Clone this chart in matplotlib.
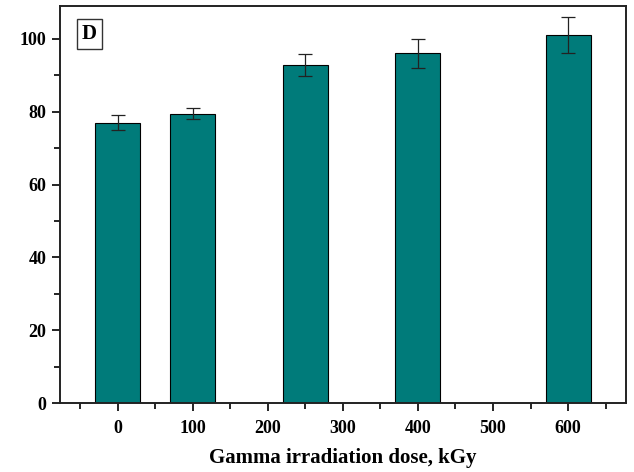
import matplotlib.pyplot as plt
from matplotlib.ticker import MultipleLocator

# values
doses = [0, 100, 250, 400, 600]
values = [77.0, 79.4, 92.9, 96.0, 101.0]
errors = [2.0, 1.5, 3.0, 4.0, 5.0]
xticks = [0, 100, 200, 300, 400, 500, 600]

plt.rcParams['font.family'] = ['Liberation Serif', 'DejaVu Serif']
plt.rcParams['font.weight'] = 'bold'

fig = plt.figure(figsize=(6.34, 4.72), dpi=100)
ax = fig.add_axes([0.095, 0.146, 0.892, 0.841])

ax.bar(doses, values, width=60, color='#007b7a', edgecolor='black', linewidth=0.8,
       zorder=2)
ax.errorbar(doses, values, yerr=errors, fmt='none', ecolor='#222222',
            elinewidth=0.9, capsize=5, capthick=0.9, zorder=3)

ax.set_xlim(-77, 677)
ax.set_ylim(0, 109)
ax.set_xticks(xticks)
ax.xaxis.set_minor_locator(MultipleLocator(50))
ax.yaxis.set_major_locator(MultipleLocator(20))
ax.yaxis.set_minor_locator(MultipleLocator(10))
ax.tick_params(which='both', direction='out', top=False, right=False,
               labelsize=13, width=1.2)
ax.tick_params(which='major', length=6)
ax.tick_params(which='minor', length=4)
ax.tick_params(axis='x', which='major', pad=6)
ax.tick_params(axis='y', which='major', pad=4)
for s in ax.spines.values():
    s.set_linewidth(1.4)
    s.set_color('#222222')

ax.set_xlabel('Gamma irradiation dose, kGy', fontsize=15, fontweight='bold', labelpad=8)

ax.text(0.038, 0.93, 'D', transform=ax.transAxes, fontsize=15, fontweight='bold',
        va='center', ha='left',
        bbox=dict(boxstyle='square,pad=0.25', facecolor='white', edgecolor='#333333',
                  linewidth=1))

fig.savefig('out.png', dpi=100)
